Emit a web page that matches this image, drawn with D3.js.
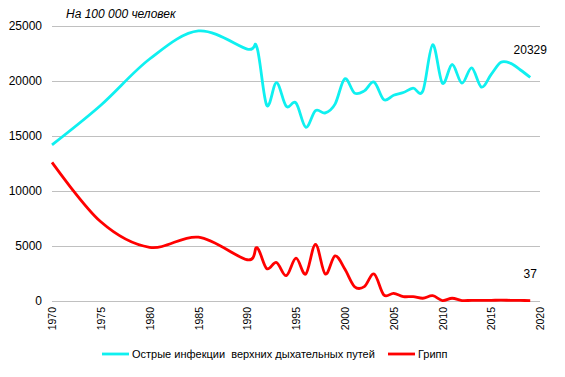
<!DOCTYPE html>
<html>
<head>
<meta charset="utf-8">
<script src="https://cdn.jsdelivr.net/npm/d3@7"></script>
<style>
  body { margin: 0; background: #fff; }
  text { font-family: "Liberation Sans", Arial, sans-serif; fill: #000; }
</style>
</head>
<body>
<script>
const Width = 565;
const Height = 377;

const margin = { left: 52, right: 25, top: 26, bottom: 76 };
const innerWidth = Width - margin.left - margin.right;
const innerHeight = Height - margin.top - margin.bottom;

// data (per 100 000 people)
const years = [1970, 1975, 1980, 1985, 1990, 1991, 1992, 1993, 1994, 1995, 1996, 1997,
               1998, 1999, 2000, 2001, 2002, 2003, 2004, 2005, 2006, 2007, 2008, 2009,
               2010, 2011, 2012, 2013, 2014, 2015, 2016, 2017, 2018, 2019];
const ariValues = [14200, 17800, 22000, 24550, 22900, 23050, 17800, 19850, 17700, 18000,
                   15800, 17300, 17100, 17900, 20200, 18900, 19100, 19900, 18300, 18700,
                   18950, 19350, 19100, 23300, 19800, 21500, 19800, 21200, 19450, 20600,
                   21700, 21600, 21000, 20329];
const fluValues = [12600, 7200, 4880, 5800, 3750, 4850, 2950, 3500, 2300, 3900, 2450, 5150,
                   2450, 4100, 2900, 1300, 1300, 2450, 550, 700, 400, 400, 250, 480,
                   40, 250, 40, 60, 50, 60, 80, 60, 50, 37];
const yTicks = [0, 5000, 10000, 15000, 20000, 25000];
const xTicks = [1970, 1975, 1980, 1985, 1990, 1995, 2000, 2005, 2010, 2015, 2020];
const seriesNames = ["Острые инфекции  верхних дыхательных путей", "Грипп"];
const seriesColors = ["#0ff0f0", "#ff0000"];

const svg = d3.select('body')
  .append('svg')
    .attr('width', Width)
    .attr('height', Height);

const g = svg.append('g')
  .attr('transform', `translate(${margin.left}, ${margin.top})`);

const xScale = d3.scaleLinear()
  .domain([1970, 2020])
  .range([0, innerWidth]);

const yScale = d3.scaleLinear()
  .domain([0, 25000])
  .range([innerHeight, 0]);

// gridlines + y labels
const yAxis = d3.axisLeft(yScale)
  .tickValues(yTicks)
  .tickSize(-innerWidth)
  .tickPadding(10)
  .tickFormat(d3.format("d"));

const yAxisG = g.append('g').call(yAxis);
yAxisG.select(".domain").remove();
yAxisG.selectAll(".tick line").attr("stroke", "#c0c0c0").attr("stroke-width", 1);
yAxisG.selectAll(".tick text")
  .attr("font-size", "12px")
  .attr("font-family", "Liberation Sans, Arial, sans-serif")
  .attr("fill", "#000");

// x labels (vertical)
const xAxis = d3.axisBottom(xScale)
  .tickValues(xTicks)
  .tickSize(0)
  .tickFormat(d3.format("d"));

const xAxisG = g.append('g')
  .attr("transform", `translate(0, ${innerHeight})`)
  .call(xAxis);
xAxisG.select(".domain").remove();
xAxisG.selectAll(".tick text")
  .attr("font-size", "10.5px")
  .attr("font-family", "Liberation Sans, Arial, sans-serif")
  .attr("fill", "#000")
  .attr("text-anchor", "end")
  .attr("transform", "translate(0, 6) rotate(-90)")
  .attr("x", 0)
  .attr("y", 0)
  .attr("dy", "0.35em");

// lines
const allSeries = [ariValues, fluValues];
const line = d3.line()
  .x((d, i) => xScale(years[i]))
  .y(d => yScale(d))
  .curve(d3.curveCardinal.tension(0));

g.selectAll(".series")
  .data(allSeries)
  .join("path")
    .attr("class", "series")
    .attr("fill", "none")
    .attr("stroke", (d, i) => seriesColors[i])
    .attr("stroke-width", 2.8)
    .attr("stroke-linejoin", "round")
    .attr("d", line);

// end value labels
const lastIdx = years.length - 1;
g.selectAll(".end-label")
  .data(allSeries)
  .join("text")
    .attr("class", "end-label")
    .attr("x", xScale(years[lastIdx]))
    .attr("y", d => yScale(d[lastIdx]) - 23)
    .attr("text-anchor", "middle")
    .attr("font-size", "12px")
    .text(d => d[lastIdx]);

// subtitle
svg.append("text")
  .attr("x", 66)
  .attr("y", 18)
  .attr("font-size", "12px")
  .attr("font-style", "italic")
  .text("На 100 000 человек");

// legend
const legendX = [102, 388];
const legend = svg.selectAll(".legend")
  .data(seriesNames)
  .join("g")
    .attr("class", "legend")
    .attr("transform", (d, i) => `translate(${legendX[i]}, 354)`);

legend.append("line")
  .attr("x1", 0)
  .attr("x2", 27)
  .attr("stroke", (d, i) => seriesColors[i])
  .attr("stroke-width", 2.8);

legend.append("text")
  .attr("x", 30)
  .attr("dy", "0.35em")
  .attr("font-size", "11px")
  .style("white-space", "pre")
  .text(d => d);
</script>
</body>
</html>
